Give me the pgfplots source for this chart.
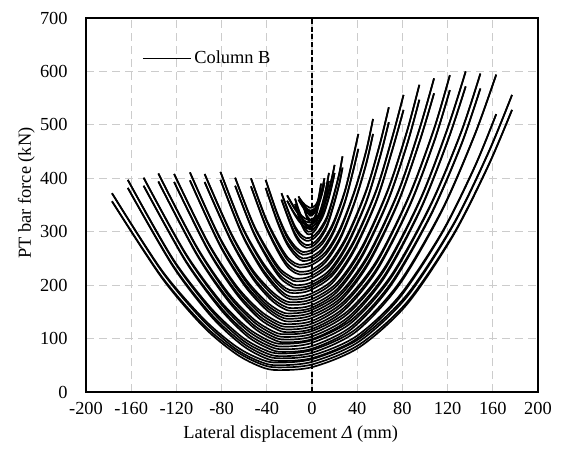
\documentclass[border=0pt]{standalone}
\usepackage{fontspec}
\setmainfont{Liberation Serif}
\usepackage{pgfplots}
\usepackage{pgfplotstable}
\pgfplotsset{compat=1.18}

% each table: x, then four branches (cycle A going/return, cycle B going/return)
\pgfplotstableread{
x a b c d
-177 372 372 357 357
-133 228 226 216 214
-96 137 133 126 122
-67 85 80 76 71
-45 61 56 52 47
-30 55 50 46 41
1 62 57 52 47
42 100 95 89 84
84 182 178 168 164
125 314 312 295 293
156 448 447 424 423
177 556 556 528 528
}\tblM
\pgfplotstableread{
x a b c d
-163 397 397 382 382
-123 249 247 237 235
-89 156 152 145 141
-62 103 98 93 88
-42 79 74 69 64
-28 72 67 63 58
1 79 74 69 64
39 118 113 104 99
77 204 200 179 175
115 341 339 299 297
144 482 481 422 421
163 594 594 520 520
}\tblL
\pgfplotstableread{
x a b c d
-149 401 401 386 386
-112 260 258 247 245
-81 170 166 159 155
-57 120 115 109 104
-38 96 91 86 81
-26 90 85 80 75
0 97 92 86 81
35 135 130 123 118
70 218 214 204 200
105 351 349 332 330
132 487 486 463 462
149 596 596 568 568
}\tblK
\pgfplotstableread{
x a b c d
-136 409 409 394 394
-102 272 270 259 257
-74 185 181 174 170
-52 137 132 126 121
-35 114 109 104 99
-24 108 103 98 93
0 114 109 104 99
32 152 147 140 135
64 232 228 218 214
96 362 360 343 341
120 494 493 470 469
136 600 600 572 572
}\tblJ
\pgfplotstableread{
x a b c d
-122 408 408 393 393
-92 280 278 267 265
-67 199 195 188 184
-47 154 149 143 138
-32 133 128 123 118
-22 127 122 117 112
0 133 128 123 118
28 169 164 157 152
57 245 241 230 226
86 368 366 348 346
108 493 492 469 468
122 593 593 565 565
}\tblI
\pgfplotstableread{
x a b c d
-108 411 411 396 396
-82 291 289 278 276
-60 215 211 204 200
-42 172 167 162 157
-29 152 147 142 137
-20 147 142 137 132
-1 153 148 143 138
25 186 181 175 170
50 258 254 244 240
76 374 372 355 353
95 492 491 468 467
108 587 587 559 559
}\tblH
\pgfplotstableread{
x a b c d
-95 408 408 393 393
-72 299 297 286 284
-53 230 226 218 214
-37 191 186 179 174
-26 173 168 162 157
-18 168 163 157 152
-1 173 168 162 157
22 204 199 192 187
44 271 267 256 252
67 378 376 358 356
84 488 487 463 462
95 575 575 547 547
}\tblG
\pgfplotstableread{
x a b c d
-81 412 412 397 397
-62 311 309 297 295
-45 247 243 234 230
-32 211 206 199 194
-23 194 189 182 177
-16 190 185 178 173
-2 195 190 183 178
18 223 218 209 204
37 283 279 267 263
57 379 377 359 357
71 477 476 453 452
81 556 556 528 528
}\tblF
\pgfplotstableread{
x a b c d
-68 401 401 386 386
-52 315 313 301 299
-38 261 257 248 244
-28 230 225 218 213
-19 216 211 204 199
-14 212 207 200 195
-2 216 211 204 199
15 241 236 227 222
31 293 289 277 273
48 378 376 357 355
60 464 463 439 438
68 533 533 505 505
}\tblE
\pgfplotstableread{
x a b c d
-54 400 400 385 385
-41 326 324 312 310
-30 280 276 266 262
-22 253 248 240 235
-15 241 236 228 223
-11 238 233 225 220
-1 242 237 228 223
12 262 257 248 243
25 307 303 290 286
38 379 377 358 356
48 452 451 428 427
54 511 511 483 483
}\tblD
\pgfplotstableread{
x a b c d
-41 397 397 382 382
-31 336 334 322 320
-23 297 293 284 280
-16 275 270 263 258
-11 265 260 253 248
-8 262 257 250 245
-1 265 260 253 248
9 282 277 268 263
19 318 314 302 298
29 376 374 356 354
36 436 435 411 410
41 483 483 455 455
}\tblC
\pgfplotstableread{
x a b c d
-27 372 372 360 360
-20 334 332 321 319
-15 310 306 297 293
-10.5 296 291 283 278
-7 290 285 277 272
-5 288 283 275 270
0 290 285 277 272
6 302 297 288 283
13 327 323 312 308
19 367 365 350 348
24 408 407 389 388
27 441 441 420 420
}\tblB
\pgfplotstableread{
x a b c d
-22 368 368 358 358
-16 347 345 336 334
-11 334 330 322 318
-7 326 321 315 310
-4 323 318 311 306
-2 322 317 310 305
1.3 323 318 311 306
5.7 331 326 319 314
10.1 348 344 335 331
14.5 375 373 362 360
17.8 403 402 389 388
20 425 425 410 410
}\tblY
\pgfplotstableread{
x a b c d
-15 362 362 352 352
-11.4 339 337 328 326
-8.4 325 321 313 309
-6 317 312 305 300
-4.2 313 308 301 296
-3 312 307 300 295
-0.3 313 308 301 296
3.3 321 316 309 304
6.9 337 333 324 320
10.5 363 361 349 347
13.2 389 388 375 374
15 410 410 395 395
}\tblA
\pgfplotstableread{
x a b c d
-12 366 366 360 360
-8.7 356 354 350 348
-6 350 346 344 340
-3.75 347 342 340 335
-2.1 345 340 338 333
-1 345 340 338 333
0.8 346 341 339 334
3.2 350 345 343 338
5.6 359 355 352 348
8 373 371 366 364
9.8 388 387 380 379
11 400 400 392 392
}\tblX
\pgfplotstableread{
x a b c d
-8 355 355 350 350
-5.9 346 344 337 335
-4.2 340 336 329 325
-2.75 337 332 325 320
-1.7 335 330 323 318
-1 335 330 322 317
0.35 336 331 323 318
2.15 340 335 327 322
3.95 349 345 336 332
5.75 363 361 351 349
7.1 378 377 366 365
8 390 390 378 378
}\tblZ

\newcommand\cyc[1]{%
  \addplot table[x=x,y=a]{#1};
  \addplot table[x=x,y=b]{#1};
  \addplot table[x=x,y=c]{#1};
  \addplot table[x=x,y=d]{#1};
}

\begin{document}
\fontsize{13.8}{16}\selectfont
\begin{tikzpicture}
\begin{axis}[
  width=339pt, height=280.5pt, scale only axis,
  xmin=-200, xmax=200, ymin=0, ymax=700,
  xtick={-200,-160,...,200}, ytick={0,100,...,700},
  major tick length=0pt,
  /pgf/number format/assume math mode=true,
  grid=major,
  grid style={gray!40, line width=0.9pt, dash pattern=on 6pt off 3.75pt},
  axis line style={line width=0.9pt},
  yticklabel style={xshift=-9pt},
  xticklabel style={yshift=-2.7pt},
  xlabel={Lateral displacement \textit{Δ} (mm)},
  ylabel={PT bar force (kN)},
  every axis x label/.style={at={(axis description cs:0.453,-0.123)}, anchor=base},
  every axis y label/.style={at={(axis description cs:-0.1217,0.532)}, anchor=base, rotate=90},
  legend style={draw=none, fill=none, at={(axis description cs:0.1232,0.892)}, anchor=west,
    inner xsep=0pt, inner ysep=0pt},
  legend image code/.code={\draw[#1] (0pt,0pt) -- (36pt,0pt);},
  cycle list={{black, mark=none}},
  every axis plot/.append style={forget plot},
  every axis plot post/.append style={smooth, line width=1.25pt},
]
\addlegendimage{black, line width=1.25pt}
\addlegendentry{Column B}
\addplot[black, dash pattern=on 3.75pt off 2pt, mark=none] coordinates {(0,0) (0,700)};
\cyc{\tblM}
\cyc{\tblL}
\cyc{\tblK}
\cyc{\tblJ}
\cyc{\tblI}
\cyc{\tblH}
\cyc{\tblG}
\cyc{\tblF}
\cyc{\tblE}
\cyc{\tblD}
\cyc{\tblC}
\cyc{\tblB}
\cyc{\tblY}
\cyc{\tblA}
\cyc{\tblX}
\cyc{\tblZ}
\end{axis}
\path (current axis.south west) ++(-64.5pt,-43.5pt) coordinate (bbl);
\path (current axis.north east) ++(18pt,13.5pt) coordinate (btr);
\path (bbl) rectangle (btr);
\end{tikzpicture}
\end{document}
